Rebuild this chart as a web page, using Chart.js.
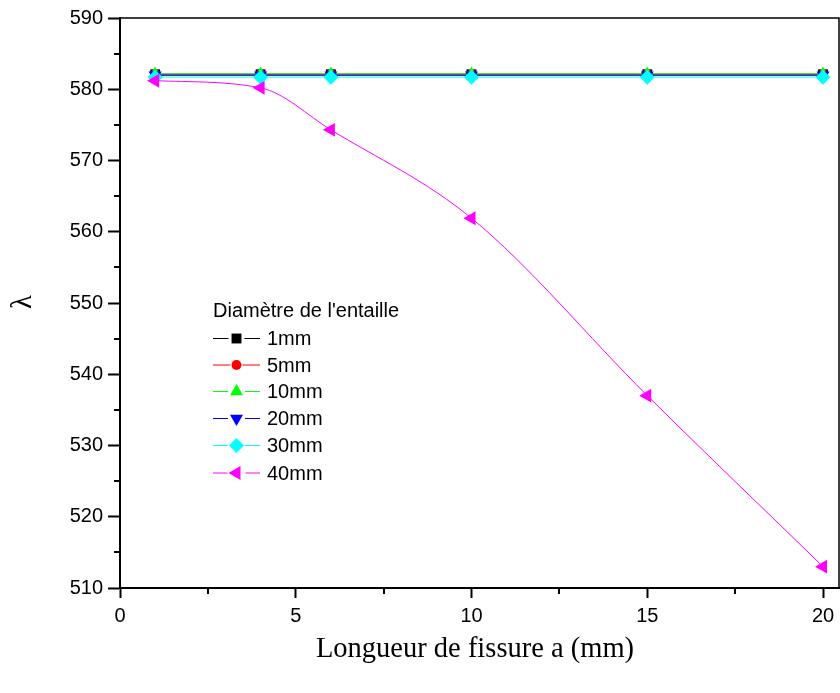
<!DOCTYPE html>
<html>
<head>
<meta charset="utf-8">
<script src="https://cdn.jsdelivr.net/npm/chart.js@4/dist/chart.umd.min.js"></script>
<style>
  html, body { margin: 0; padding: 0; background: #fff; }
  canvas { display: block; }
</style>
</head>
<body>
<canvas id="c" width="840" height="693"></canvas>
<script>
// Crack length a (mm)
const crackLength = [1, 4, 6, 10, 15, 20];

// Lambda for each notch diameter
const lambda1mm  = [582.1, 582.1, 582.1, 582.1, 582.1, 582.1];
const lambda5mm  = [582.1, 582.1, 582.1, 582.1, 582.1, 582.1];
const lambda10mm = [582.15, 582.15, 582.15, 582.15, 582.15, 582.15];
const lambda20mm = [581.95, 581.95, 581.95, 581.95, 581.95, 581.95];
const lambda30mm = [581.7, 581.7, 581.7, 581.7, 581.7, 581.7];
const lambda40mm = [581.2, 580.2, 574.3, 561.9, 537.0, 513.0];

const seriesNames = ['1mm', '5mm', '10mm', '20mm', '30mm', '40mm'];
const xTicks = [0, 5, 10, 15, 20];
const xMinorTicks = [2.5, 7.5, 12.5, 17.5];
const yTicks = [510, 520, 530, 540, 550, 560, 570, 580, 590];
const yMinorTicks = [515, 525, 535, 545, 555, 565, 575, 585];

const legendTitle = "Diamètre de l'entaille";
const xTitle = 'Longueur de fissure a (mm)';
const yTitle = 'λ';

const series = [lambda1mm, lambda5mm, lambda10mm, lambda20mm, lambda30mm, lambda40mm];
const styles = [
  { color: '#000000', pointStyle: 'rect',     radius: 7,   rotation: 0 },
  { color: '#ff0000', pointStyle: 'circle',   radius: 5,   rotation: 0 },
  { color: '#00ff00', pointStyle: 'triangle', radius: 7.5, rotation: 0 },
  { color: '#0000ff', pointStyle: 'triangle', radius: 7.5, rotation: 180 },
  { color: '#00ffff', pointStyle: 'rectRot',  radius: 7.5, rotation: 0 },
  { color: '#ff00ff', pointStyle: 'triangle', radius: 8,   rotation: -90 }
];

const datasets = series.map((vals, i) => ({
  label: seriesNames[i],
  data: crackLength.map((x, k) => ({ x: x, y: vals[k] })),
  borderColor: styles[i].color,
  backgroundColor: styles[i].color,
  pointBackgroundColor: styles[i].color,
  pointBorderColor: styles[i].color,
  pointBorderWidth: 0,
  pointStyle: styles[i].pointStyle,
  pointRadius: styles[i].radius,
  pointRotation: styles[i].rotation,
  borderWidth: 1,
  fill: false,
  tension: 0,
  cubicInterpolationMode: i === 5 ? 'monotone' : 'default',
  order: series.length - 1 - i
}));

const SANS = "'Liberation Sans', Arial, sans-serif";
const SERIF = "'Liberation Serif', 'Times New Roman', serif";

// Frame, minor ticks, axis titles and the in-plot legend
const decorations = {
  id: 'decorations',
  afterDraw(chart) {
    const ctx = chart.ctx;
    const a = chart.chartArea;
    const xs = chart.scales.x, ys = chart.scales.y;
    ctx.save();

    // top and right frame lines
    ctx.strokeStyle = '#000';
    ctx.lineWidth = 1.5;
    ctx.beginPath();
    ctx.moveTo(a.left, a.top);
    ctx.lineTo(a.right, a.top);
    ctx.lineTo(a.right, a.bottom);
    ctx.stroke();

    // minor ticks
    ctx.lineWidth = 2;
    ctx.beginPath();
    xMinorTicks.forEach(v => {
      const px = Math.round(xs.getPixelForValue(v));
      ctx.moveTo(px, a.bottom);
      ctx.lineTo(px, a.bottom + 6);
    });
    yMinorTicks.forEach(v => {
      const py = Math.round(ys.getPixelForValue(v));
      ctx.moveTo(a.left, py);
      ctx.lineTo(a.left - 6, py);
    });
    ctx.stroke();

    // axis titles
    ctx.fillStyle = '#000';
    ctx.font = '28.5px ' + SERIF;
    ctx.textAlign = 'center';
    ctx.textBaseline = 'alphabetic';
    ctx.fillText(xTitle, 475, 657);
    ctx.save();
    ctx.translate(24, 302);
    ctx.rotate(-Math.PI / 2);
    ctx.textBaseline = 'middle';
    ctx.fillText(yTitle, 0, 0);
    ctx.restore();

    // legend
    const lx = 213, lw = 47, tx = 267;
    ctx.textAlign = 'left';
    ctx.textBaseline = 'middle';
    ctx.font = '20px ' + SANS;
    ctx.fillText(legendTitle, lx, 311);
    const rowY = [338.5, 365, 391.5, 418.5, 445.5, 473];
    datasets.forEach((ds, i) => {
      const y = rowY[i];
      const cx = lx + lw / 2;
      const gap = styles[i].radius + 1;
      ctx.strokeStyle = ds.borderColor;
      ctx.lineWidth = 1;
      ctx.beginPath();
      ctx.moveTo(lx, y);
      ctx.lineTo(cx - gap, y);
      ctx.moveTo(cx + gap, y);
      ctx.lineTo(lx + lw, y);
      ctx.stroke();
      ctx.fillStyle = ds.backgroundColor;
      ctx.strokeStyle = ds.borderColor;
      Chart.helpers.drawPoint(ctx, {
        pointStyle: styles[i].pointStyle,
        radius: styles[i].radius,
        rotation: styles[i].rotation,
        borderWidth: 0
      }, cx, y);
      ctx.fillStyle = '#000';
      ctx.fillText(ds.label, tx, y + 1);
    });

    ctx.restore();
  }
};

const X_MAX = 20 * 719 / 703;

function noPadding(s) {
  s.paddingLeft = 0;
  s.paddingRight = 0;
  s.paddingTop = 0;
  s.paddingBottom = 0;
}

new Chart(document.getElementById('c'), {
  type: 'line',
  data: { datasets: datasets },
  plugins: [decorations],
  options: {
    responsive: false,
    animation: false,
    devicePixelRatio: 1,
    layout: { autoPadding: false, padding: { top: 18, right: 1, left: 0, bottom: 0 } },
    plugins: { legend: { display: false }, tooltip: { enabled: false } },
    scales: {
      x: {
        type: 'linear',
        min: 0,
        max: X_MAX,
        afterBuildTicks: s => { s.ticks = xTicks.map(v => ({ value: v })); },
        afterFit: s => { s.height = 105; noPadding(s); },
        grid: { drawOnChartArea: false, drawTicks: true, tickLength: 10, tickWidth: 2, tickColor: '#000' },
        border: { display: true, color: '#000', width: 2 },
        ticks: { font: { family: SANS, size: 20 }, color: '#000', padding: 6, maxRotation: 0 }
      },
      y: {
        type: 'linear',
        min: 510,
        max: 590,
        afterBuildTicks: s => { s.ticks = yTicks.map(v => ({ value: v })); },
        afterFit: s => { s.width = 120; noPadding(s); },
        grid: { drawOnChartArea: false, drawTicks: true, tickLength: 12, tickWidth: 2, tickColor: '#000' },
        border: { display: true, color: '#000', width: 2 },
        ticks: { font: { family: SANS, size: 20 }, color: '#000', padding: 5 }
      }
    }
  }
});
</script>
</body>
</html>
